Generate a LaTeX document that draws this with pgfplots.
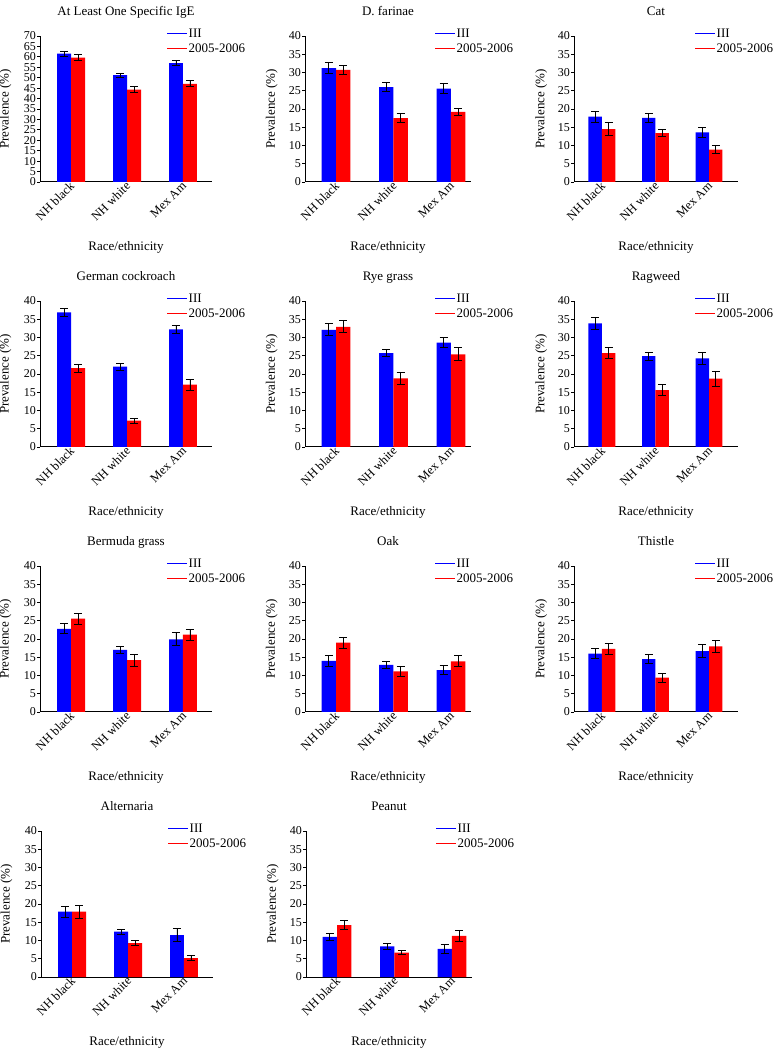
\documentclass[border=0pt]{standalone}
\usepackage{fontspec}
\setmainfont{Liberation Serif}
\usepackage{pgfplots}
\pgfplotsset{compat=1.18}
\pgfplotsset{
  errs/.style={/pgfplots/error bars/.cd, y dir=both, y explicit,
    error bar style={black, line width=0.9pt},
    error mark options={black, rotate=90, mark size=4pt, line width=0.9pt}},
  bluebar/.style={ybar, bar width=0.25, bar shift=0, fill=blue, draw=none, forget plot, errs},
  redbar/.style={ybar, bar width=0.25, bar shift=0, fill=red, draw=none, forget plot, errs},
  panel/.style={
    scale only axis, height=146pt,
    axis lines=left, axis line style={-, line width=1pt, black},
    ymin=0, ymax=40, ytick distance=5, enlarge y limits=false,
    xtick={0,1,2}, xticklabels={NH black, NH white, Mex Am},
    xticklabel style={rotate=45, anchor=east, xshift=5pt, font=\fontsize{12.5}{12.5}\selectfont},
    x tick style={draw=none},
    tick align=outside, major tick length=3pt,
    y tick style={black, line width=0.8pt},
    yticklabel style={font=\fontsize{12}{12}\selectfont, inner sep=1pt},
    /pgf/number format/assume math mode=true,
    xlabel={Race/ethnicity}, ylabel={Prevalence (\%)},
    xlabel style={at={(axis description cs:0.5,-0.445)}, anchor=center, font=\fontsize{13}{13}\selectfont},
    ylabel style={at={(axis description cs:-0.2,0.5)}, anchor=center, font=\fontsize{13}{13}\selectfont},
    title style={at={(axis description cs:0.5,1)}, anchor=base, yshift=14.5pt, font=\fontsize{13}{13}\selectfont},
    legend cell align=left,
    legend image code/.code={\fill[#1, draw=none] (0pt,-0.6pt) rectangle (20pt,0.6pt);},
    legend style={draw=none, fill=none, at={(axis description cs:0,1)}, anchor=north west,
      yshift=9pt, inner sep=0pt, row sep=2pt,
      font=\fontsize{13}{13}\selectfont, nodes={inner sep=1.5pt}},
    clip=false,
  },
  colA/.style={panel, width=172pt, xmin=-0.554, xmax=2.518, legend style={xshift=127pt}},
  colB/.style={panel, width=166pt, xmin=-0.54, xmax=2.35, legend style={xshift=130pt}},
  colC/.style={panel, width=164pt, xmin=-0.52, xmax=2.54, legend style={xshift=121pt}},
}
\newcommand{\leg}{\addlegendimage{fill=blue}\addlegendentry{III}\addlegendimage{fill=red}\addlegendentry{2005-2006}}
\begin{document}
\begin{tikzpicture}
\useasboundingbox (0,0) rectangle (776pt,1050pt);
% Row 1
\begin{axis}[colA, at={(40pt,868pt)}, anchor=south west, ymax=70, title={At Least One Specific IgE}]
\leg
\addplot[bluebar] coordinates {(-0.125,61.6) +- (0,1.2) (0.875,51.2) +- (0,1.0) (1.875,57.0) +- (0,1.1)};
\addplot[redbar] coordinates {(0.125,59.6) +- (0,1.4) (1.125,44.3) +- (0,1.4) (2.125,47.1) +- (0,1.5)};
\end{axis}
\begin{axis}[colB, at={(305pt,868pt)}, anchor=south west, title={D. farinae}]
\leg
\addplot[bluebar] coordinates {(-0.125,31.2) +- (0,1.55) (0.875,26.0) +- (0,1.2) (1.875,25.6) +- (0,1.4)};
\addplot[redbar] coordinates {(0.125,30.7) +- (0,1.3) (1.125,17.5) +- (0,1.2) (2.125,19.2) +- (0,0.9)};
\end{axis}
\begin{axis}[colC, at={(574pt,868pt)}, anchor=south west, title={Cat}]
\leg
\addplot[bluebar] coordinates {(-0.125,17.9) +- (0,1.55) (0.875,17.6) +- (0,1.3) (1.875,13.6) +- (0,1.3)};
\addplot[redbar] coordinates {(0.125,14.5) +- (0,1.8) (1.125,13.4) +- (0,1.0) (2.125,8.9) +- (0,1.0)};
\end{axis}
% Row 2
\begin{axis}[colA, at={(40pt,603pt)}, anchor=south west, title={German cockroach}]
\leg
\addplot[bluebar] coordinates {(-0.125,36.9) +- (0,1.1) (0.875,22.0) +- (0,1.0) (1.875,32.2) +- (0,1.2)};
\addplot[redbar] coordinates {(0.125,21.6) +- (0,1.1) (1.125,7.2) +- (0,0.65) (2.125,17.1) +- (0,1.5)};
\end{axis}
\begin{axis}[colB, at={(305pt,603pt)}, anchor=south west, title={Rye grass}]
\leg
\addplot[bluebar] coordinates {(-0.125,32.1) +- (0,1.65) (0.875,25.7) +- (0,1.0) (1.875,28.6) +- (0,1.4)};
\addplot[redbar] coordinates {(0.125,32.9) +- (0,1.65) (1.125,18.8) +- (0,1.75) (2.125,25.4) +- (0,1.8)};
\end{axis}
\begin{axis}[colC, at={(574pt,603pt)}, anchor=south west, title={Ragweed}]
\leg
\addplot[bluebar] coordinates {(-0.125,33.9) +- (0,1.6) (0.875,24.9) +- (0,1.1) (1.875,24.3) +- (0,1.55)};
\addplot[redbar] coordinates {(0.125,25.7) +- (0,1.5) (1.125,15.6) +- (0,1.5) (2.125,18.7) +- (0,2.0)};
\end{axis}
% Row 3
\begin{axis}[colA, at={(40pt,338pt)}, anchor=south west, title={Bermuda grass}]
\leg
\addplot[bluebar] coordinates {(-0.125,22.8) +- (0,1.4) (0.875,17.0) +- (0,0.9) (1.875,19.9) +- (0,1.8)};
\addplot[redbar] coordinates {(0.125,25.6) +- (0,1.5) (1.125,14.2) +- (0,1.65) (2.125,21.2) +- (0,1.5)};
\end{axis}
\begin{axis}[colB, at={(305pt,338pt)}, anchor=south west, title={Oak}]
\leg
\addplot[bluebar] coordinates {(-0.125,14.0) +- (0,1.4) (0.875,12.9) +- (0,1.0) (1.875,11.5) +- (0,1.3)};
\addplot[redbar] coordinates {(0.125,19.0) +- (0,1.5) (1.125,11.1) +- (0,1.4) (2.125,13.9) +- (0,1.5)};
\end{axis}
\begin{axis}[colC, at={(574pt,338pt)}, anchor=south west, title={Thistle}]
\leg
\addplot[bluebar] coordinates {(-0.125,16.0) +- (0,1.3) (0.875,14.5) +- (0,1.2) (1.875,16.7) +- (0,1.8)};
\addplot[redbar] coordinates {(0.125,17.3) +- (0,1.4) (1.125,9.4) +- (0,1.2) (2.125,18.0) +- (0,1.7)};
\end{axis}
% Row 4
\begin{axis}[colA, at={(41pt,73pt)}, anchor=south west, title={Alternaria}]
\leg
\addplot[bluebar] coordinates {(-0.125,17.9) +- (0,1.5) (0.875,12.4) +- (0,0.75) (1.875,11.5) +- (0,1.85)};
\addplot[redbar] coordinates {(0.125,17.9) +- (0,1.75) (1.125,9.3) +- (0,0.75) (2.125,5.2) +- (0,0.65)};
\end{axis}
\begin{axis}[colB, at={(306pt,73pt)}, anchor=south west, title={Peanut}]
\leg
\addplot[bluebar] coordinates {(-0.125,11.0) +- (0,0.9) (0.875,8.4) +- (0,0.75) (1.875,7.7) +- (0,1.2)};
\addplot[redbar] coordinates {(0.125,14.2) +- (0,1.2) (1.125,6.7) +- (0,0.65) (2.125,11.3) +- (0,1.5)};
\end{axis}
\end{tikzpicture}
\end{document}
